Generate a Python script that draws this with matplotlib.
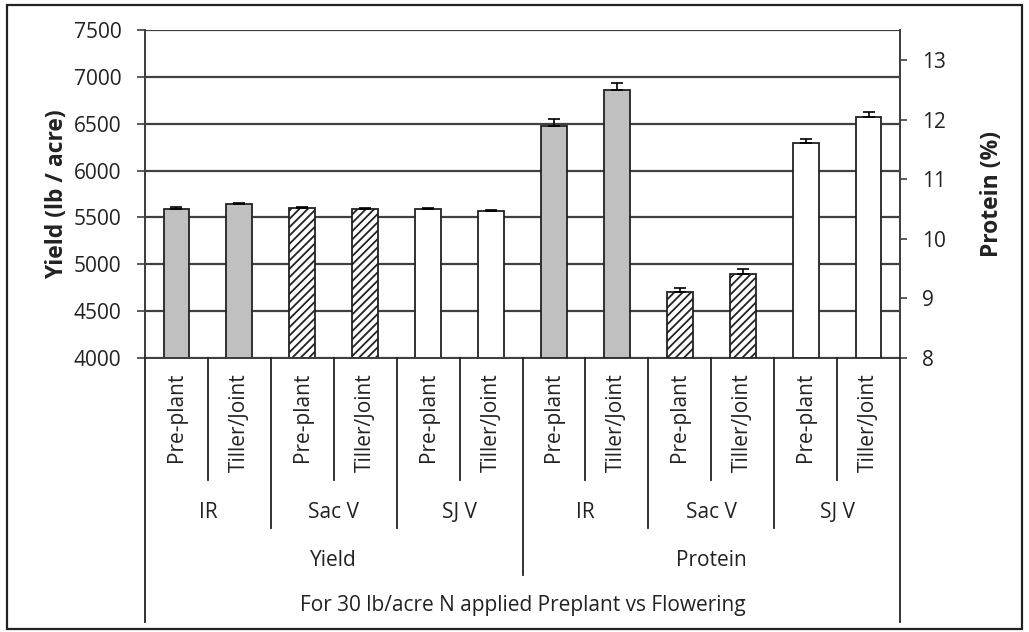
import matplotlib
matplotlib.use("Agg")
import matplotlib.pyplot as plt
import matplotlib.transforms as mtransforms
from matplotlib.lines import Line2D
from matplotlib.patches import Rectangle

plt.rcParams['font.family'] = ['Open Sans', 'DejaVu Sans']
plt.rcParams['hatch.linewidth'] = 1.3

# data
timings = ["Pre-plant", "Tiller/Joint"]
regions = ["IR", "Sac V", "SJ V"]
measures = ["Yield", "Protein"]
title_row = "For 30 lb/acre N applied Preplant vs Flowering"

yield_vals = [5595, 5640, 5600, 5595, 5592, 5572]
yield_err = [12, 12, 10, 10, 10, 10]
protein_vals = [11.89, 12.50, 9.11, 9.41, 11.60, 12.05]
protein_err = [0.12, 0.12, 0.06, 0.08, 0.08, 0.07]

region_face = {"IR": "#c0c0c0", "Sac V": "white", "SJ V": "white"}
region_hatch = {"IR": None, "Sac V": "////", "SJ V": None}

W, H = 1029, 632
fig = plt.figure(figsize=(W / 100, H / 100), dpi=100)
ax = fig.add_axes([145 / W, 1 - 358 / H, 755 / W, 328 / H])
ax2 = ax.twinx()

grid_c = "#404040"
txt_c = "#222222"
fs = 15
bw = 0.41

# yield bars, left axis
for i, (v, e) in enumerate(zip(yield_vals, yield_err)):
    reg = regions[i // 2]
    ax.bar(i, v - 4000, bottom=4000, width=bw, color=region_face[reg],
           hatch=region_hatch[reg], edgecolor=txt_c, linewidth=1.3, zorder=3)
    ax.errorbar(i, v, yerr=[[0], [e]], fmt="none", ecolor="black",
                elinewidth=1.2, capsize=4, capthick=1.2, zorder=4)

# protein bars, right axis
for j, (v, e) in enumerate(zip(protein_vals, protein_err)):
    i = j + 6
    reg = regions[j // 2]
    ax2.bar(i, v - 8, bottom=8, width=bw, color=region_face[reg],
            hatch=region_hatch[reg], edgecolor=txt_c, linewidth=1.3, zorder=3)
    ax2.errorbar(i, v, yerr=[[0], [e]], fmt="none", ecolor="black",
                 elinewidth=1.2, capsize=4, capthick=1.2, zorder=4)

ax.set_xlim(-0.5, 11.5)
ax.set_ylim(4000, 7500)
ax.set_yticks(range(4000, 7501, 500))
ax2.set_ylim(8, 8 + 328 / 59.6)
ax2.set_yticks(range(8, 14))

ax.yaxis.grid(True, color=grid_c, linewidth=1.6, zorder=0)
ax.set_axisbelow(True)
ax.set_xticks([])

ax.spines["top"].set_visible(False)
ax2.spines["top"].set_visible(False)
for a in (ax, ax2):
    for sp in ["left", "right", "bottom"]:
        a.spines[sp].set_color(grid_c)
        a.spines[sp].set_linewidth(1.4)

ax.tick_params(axis="y", direction="out", length=6, width=1.2, color=grid_c,
               labelsize=fs, labelcolor=txt_c, pad=11)
ax2.tick_params(axis="y", direction="out", length=5, width=1.2, color=grid_c,
                labelsize=fs, labelcolor=txt_c, pad=11)
ax.set_ylabel("Yield (lb / acre)", fontsize=16.5, fontweight="bold",
              labelpad=3, color=txt_c)
ax2.set_ylabel("Protein (%)", fontsize=16.5, fontweight="bold",
               labelpad=24, color=txt_c)

# multi-level category axis below the plot
tr = mtransforms.blended_transform_factory(ax.transData, fig.transFigure)


def fy(px):
    return 1 - px / H


def vline(x, y0, y1):
    fig.add_artist(Line2D([x, x], [fy(y0), fy(y1)], transform=tr,
                          color=txt_c, linewidth=1.3, clip_on=False))


for i in range(12):
    fig.text(i, fy(373), timings[i % 2], transform=tr, rotation=90,
             ha="center", va="top", fontsize=fs, color=txt_c)
    x = i - 0.5
    if i == 0:
        vline(x, 358, 622)
    elif i == 6:
        vline(x, 358, 575)
    elif i % 2 == 0:
        vline(x, 358, 528)
    else:
        vline(x, 358, 480)
vline(11.5, 358, 622)

for g in range(6):
    fig.text(2 * g + 0.5, fy(513), regions[g % 3], transform=tr,
             ha="center", va="center", fontsize=fs, color=txt_c)
for m in range(2):
    fig.text(6 * m + 2.5, fy(560), measures[m], transform=tr,
             ha="center", va="center", fontsize=fs, color=txt_c)
fig.text(5.5, fy(605), title_row, transform=tr,
         ha="center", va="center", fontsize=fs, color=txt_c)

# outer chart border
fig.add_artist(Rectangle((7 / W, 1 - 629 / H), 1015 / W, 624 / H,
                         transform=fig.transFigure, fill=False,
                         edgecolor=txt_c, linewidth=1.6))

fig.savefig("out.png", dpi=100)
